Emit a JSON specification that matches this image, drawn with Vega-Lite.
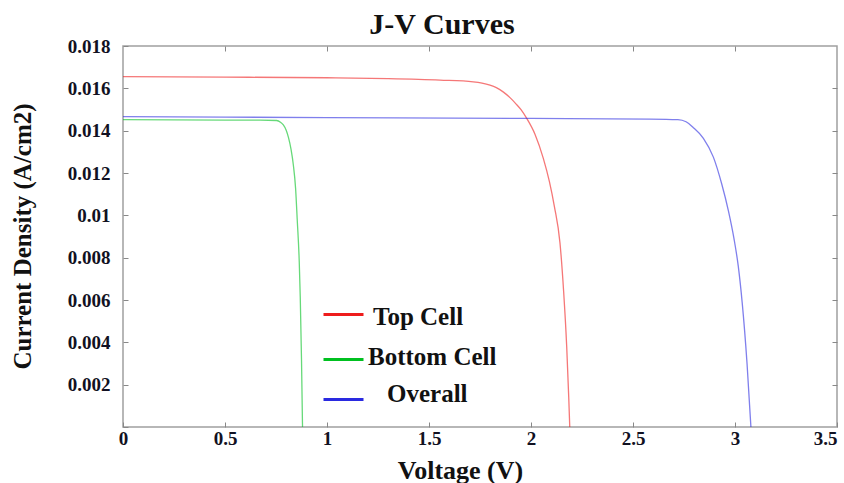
{
  "$schema": "https://vega.github.io/schema/vega-lite/v6.json",
  "width": 714,
  "height": 381,
  "autosize": {"type": "none"},
  "padding": {"left": 123, "top": 46, "right": 7, "bottom": 56},
  "background": "white",
  "config": {
    "view": {"stroke": "#a0a0a0", "strokeWidth": 1.5},
    "font": "Liberation Serif"
  },
  "title": {
    "text": "J-V Curves",
    "font": "Liberation Serif",
    "fontSize": 30,
    "fontWeight": "bold",
    "color": "#111111",
    "anchor": "middle",
    "dx": -38,
    "offset": -3
  },
  "data": {
    "values": [
      {"series": "Top Cell", "V": 0, "J": 0.01655},
      {"series": "Top Cell", "V": 0.5, "J": 0.01653},
      {"series": "Top Cell", "V": 1.0, "J": 0.0165},
      {"series": "Top Cell", "V": 1.3, "J": 0.01646},
      {"series": "Top Cell", "V": 1.554, "J": 0.01639},
      {"series": "Top Cell", "V": 1.717, "J": 0.01631},
      {"series": "Top Cell", "V": 1.76, "J": 0.01625},
      {"series": "Top Cell", "V": 1.799, "J": 0.01615},
      {"series": "Top Cell", "V": 1.83, "J": 0.01603},
      {"series": "Top Cell", "V": 1.865, "J": 0.01582},
      {"series": "Top Cell", "V": 1.897, "J": 0.01556},
      {"series": "Top Cell", "V": 1.925, "J": 0.01528},
      {"series": "Top Cell", "V": 1.952, "J": 0.01498},
      {"series": "Top Cell", "V": 1.979, "J": 0.01458},
      {"series": "Top Cell", "V": 2.02, "J": 0.01382},
      {"series": "Top Cell", "V": 2.06, "J": 0.0127},
      {"series": "Top Cell", "V": 2.09, "J": 0.0116},
      {"series": "Top Cell", "V": 2.115, "J": 0.0104},
      {"series": "Top Cell", "V": 2.142, "J": 0.0087},
      {"series": "Top Cell", "V": 2.16, "J": 0.0064},
      {"series": "Top Cell", "V": 2.175, "J": 0.0038},
      {"series": "Top Cell", "V": 2.185, "J": 0.0014},
      {"series": "Top Cell", "V": 2.19, "J": 0},
      {"series": "Bottom Cell", "V": 0, "J": 0.01452},
      {"series": "Bottom Cell", "V": 0.5, "J": 0.0145},
      {"series": "Bottom Cell", "V": 0.672, "J": 0.0145},
      {"series": "Bottom Cell", "V": 0.753, "J": 0.01448},
      {"series": "Bottom Cell", "V": 0.772, "J": 0.0144},
      {"series": "Bottom Cell", "V": 0.786, "J": 0.01427},
      {"series": "Bottom Cell", "V": 0.8, "J": 0.01402},
      {"series": "Bottom Cell", "V": 0.811, "J": 0.01368},
      {"series": "Bottom Cell", "V": 0.824, "J": 0.0131},
      {"series": "Bottom Cell", "V": 0.835, "J": 0.01238},
      {"series": "Bottom Cell", "V": 0.846, "J": 0.01128},
      {"series": "Bottom Cell", "V": 0.854, "J": 0.0098},
      {"series": "Bottom Cell", "V": 0.864, "J": 0.0078},
      {"series": "Bottom Cell", "V": 0.869, "J": 0.0061},
      {"series": "Bottom Cell", "V": 0.875, "J": 0.0032},
      {"series": "Bottom Cell", "V": 0.88, "J": 0},
      {"series": "Overall", "V": 0, "J": 0.01466},
      {"series": "Overall", "V": 1.0, "J": 0.01462},
      {"series": "Overall", "V": 2.0, "J": 0.01458},
      {"series": "Overall", "V": 2.583, "J": 0.01455},
      {"series": "Overall", "V": 2.72, "J": 0.01452},
      {"series": "Overall", "V": 2.76, "J": 0.01442},
      {"series": "Overall", "V": 2.796, "J": 0.01414},
      {"series": "Overall", "V": 2.845, "J": 0.01364},
      {"series": "Overall", "V": 2.894, "J": 0.01275},
      {"series": "Overall", "V": 2.935, "J": 0.01148},
      {"series": "Overall", "V": 2.968, "J": 0.0102},
      {"series": "Overall", "V": 2.995, "J": 0.0089},
      {"series": "Overall", "V": 3.016, "J": 0.0076},
      {"series": "Overall", "V": 3.035, "J": 0.0059},
      {"series": "Overall", "V": 3.059, "J": 0.0030},
      {"series": "Overall", "V": 3.078, "J": 0}
    ]
  },
  "layer": [
    {
      "mark": {"type": "point", "opacity": 0},
      "encoding": {
        "x": {
          "field": "V",
          "type": "quantitative",
          "axis": {
            "orient": "top",
            "title": null,
            "values": [0.5, 1, 1.5, 2, 2.5, 3],
            "labels": false,
            "grid": false,
            "domain": false,
            "tickSize": -5,
            "tickColor": "#888888"
          }
        },
        "y": {
          "field": "J",
          "type": "quantitative",
          "axis": {
            "orient": "right",
            "title": null,
            "values": [0.002, 0.004, 0.006, 0.008, 0.01, 0.012, 0.014, 0.016],
            "labels": false,
            "grid": false,
            "domain": false,
            "tickSize": -5,
            "tickColor": "#888888"
          }
        }
      }
    },
    {
      "mark": {"type": "line", "strokeWidth": 1.3, "opacity": 0.6, "interpolate": "monotone", "clip": true},
      "encoding": {
        "x": {
          "field": "V",
          "type": "quantitative",
          "scale": {"domain": [0, 3.5], "nice": false},
          "axis": {
            "orient": "bottom",
            "title": "Voltage (V)",
            "titleFont": "Liberation Serif",
            "titleFontSize": 26,
            "titleFontWeight": "bold",
            "titleColor": "#111111",
            "titleX": 337,
            "titleY": 43,
            "titleBaseline": "middle",
            "values": [0, 0.5, 1, 1.5, 2, 2.5, 3, 3.5],
            "labelFont": "Liberation Serif",
            "labelFontSize": 19,
            "labelFontWeight": "bold",
            "labelColor": "#111122",
            "labelPadding": 7,
            "labelFlush": false,
            "labelAlign": {"expr": "datum.value == 3.5 ? 'right' : 'center'"},
            "labelExpr": "format(datum.value, '~g')",
            "grid": false,
            "domain": false,
            "ticks": true,
            "tickSize": -5,
            "tickColor": "#888888"
          }
        },
        "y": {
          "field": "J",
          "type": "quantitative",
          "scale": {"domain": [0, 0.018], "nice": false},
          "axis": {
            "orient": "left",
            "title": "Current Density (A/cm2)",
            "titleFont": "Liberation Serif",
            "titleFontSize": 25,
            "titleFontWeight": "bold",
            "titleColor": "#111111",
            "titleAngle": -90,
            "titleX": -101,
            "titleY": 190,
            "titleBaseline": "middle",
            "titleAlign": "center",
            "values": [0, 0.002, 0.004, 0.006, 0.008, 0.01, 0.012, 0.014, 0.016, 0.018],
            "labelFont": "Liberation Serif",
            "labelFontSize": 19,
            "labelFontWeight": "bold",
            "labelColor": "#111122",
            "labelPadding": 18,
            "labelFlush": false,
            "labelExpr": "datum.value == 0 ? '' : format(datum.value, '~g')",
            "grid": false,
            "domain": false,
            "ticks": true,
            "tickSize": -5,
            "tickColor": "#888888"
          }
        },
        "color": {
          "field": "series",
          "type": "nominal",
          "scale": {
            "domain": ["Top Cell", "Bottom Cell", "Overall"],
            "range": ["#ee1c1c", "#00c020", "#2a2ae0"]
          },
          "legend": {
            "title": null,
            "orient": "none",
            "legendX": 199,
            "legendY": 247,
            "symbolType": "stroke",
            "symbolSize": 1600,
            "symbolStrokeWidth": 3,
            "symbolOpacity": 1,
            "labelFont": "Liberation Serif",
            "labelFontSize": 25,
            "labelFontWeight": "bold",
            "labelColor": "#111111",
            "labelOffset": 8,
            "rowPadding": 8,
            "encode": {
              "labels": {
                "update": {
                  "dx": {"signal": "datum.value == 'Overall' ? 14 : datum.value == 'Bottom Cell' ? -5 : 0"},
                  "dy": {"signal": "datum.value == 'Overall' ? -6 : datum.value == 'Bottom Cell' ? -3 : 2"}
                }
              }
            }
          }
        }
      }
    }
  ]
}
